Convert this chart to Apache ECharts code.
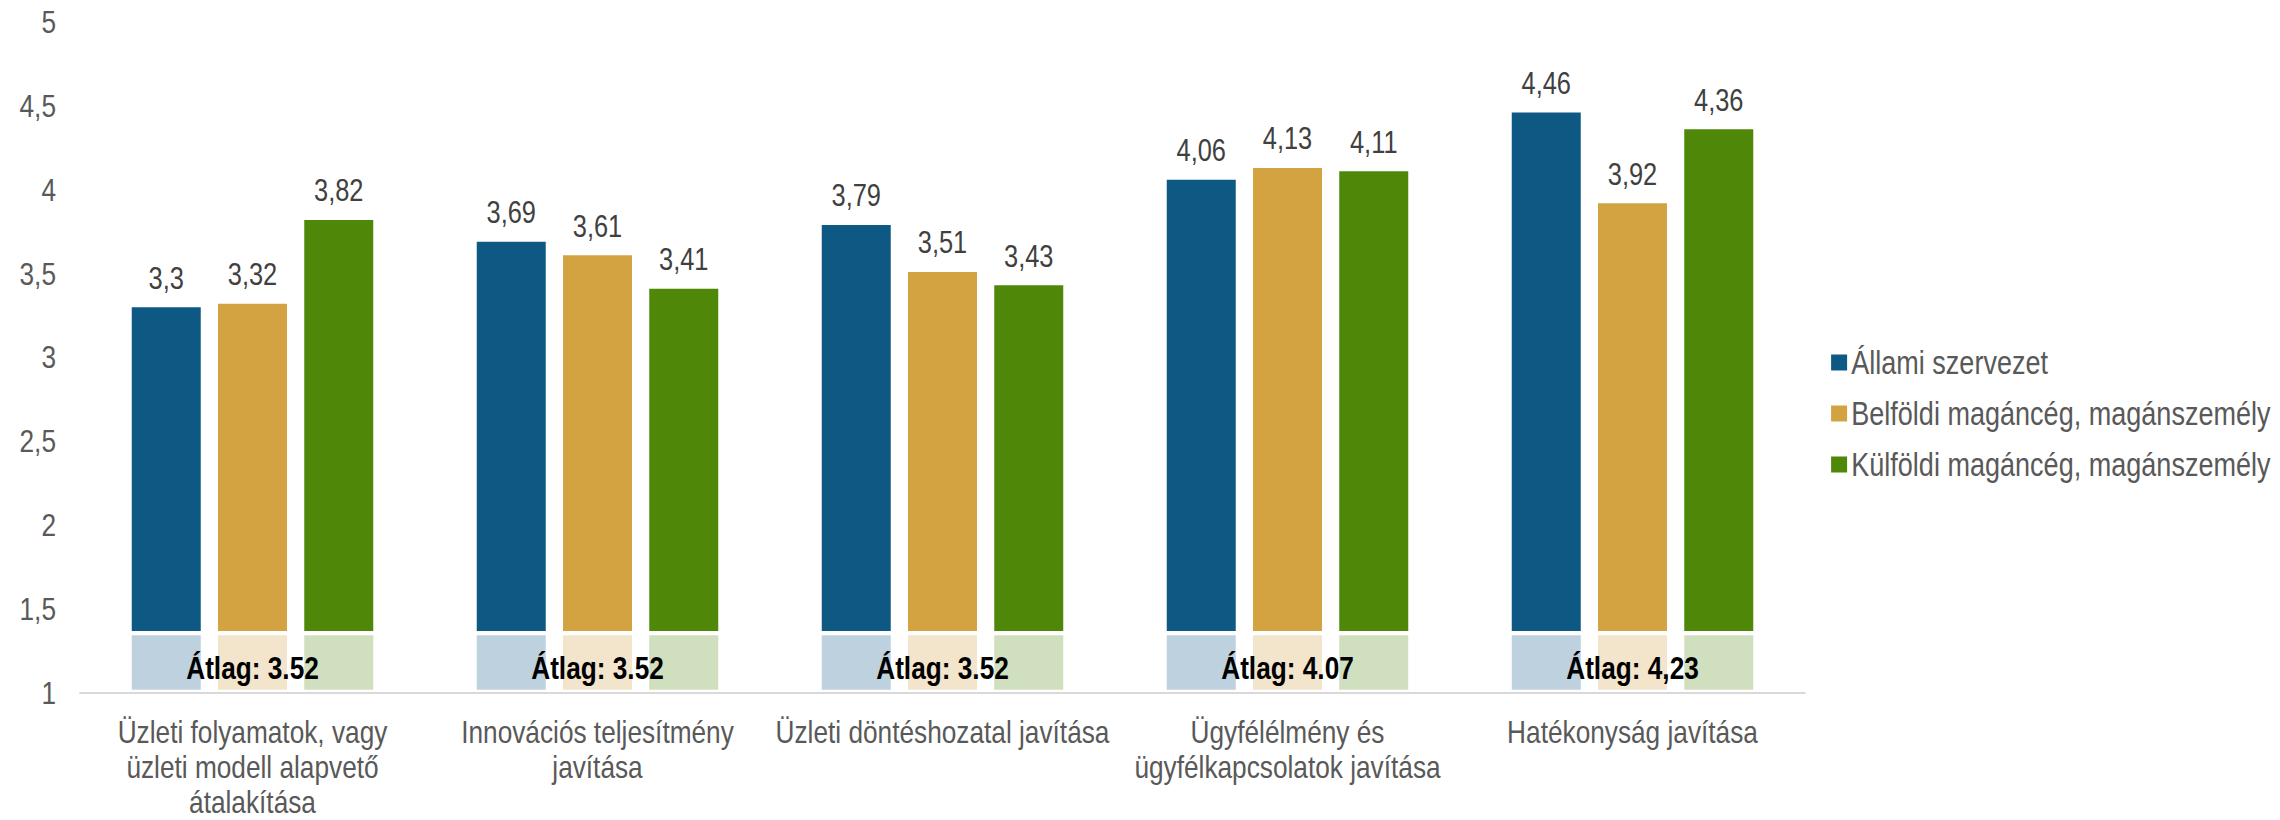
<!DOCTYPE html>
<html>
<head>
<meta charset="utf-8">
<script src="https://cdn.jsdelivr.net/npm/echarts@6/dist/echarts.min.js"></script>
<style>
  html, body { margin: 0; padding: 0; background: #fff; overflow: hidden; }
  #wrap { width: 2280px; height: 820px; overflow: hidden; }
  #chart { height: 820px; transform-origin: 0 0; }
</style>
</head>
<body>
<div id="wrap"><div id="chart"></div></div>
<script>
const categories = [
    'Üzleti folyamatok, vagy\nüzleti modell alapvető\nátalakítása',
    'Innovációs teljesítmény\njavítása',
    'Üzleti döntéshozatal javítása',
    'Ügyfélélmény és\nügyfélkapcsolatok javítása',
    'Hatékonyság javítása'
];
const seriesNames = ['Állami szervezet', 'Belföldi magáncég, magánszemély', 'Külföldi magáncég, magánszemély'];
const allami = [3.3, 3.69, 3.79, 4.06, 4.46];
const belfoldi = [3.32, 3.61, 3.51, 4.13, 3.92];
const kulfoldi = [3.82, 3.41, 3.43, 4.11, 4.36];
const avgLabels = ['Átlag: 3.52', 'Átlag: 3.52', 'Átlag: 3.52', 'Átlag: 4.07', 'Átlag: 4,23'];
const yTicks = [1, 1.5, 2, 2.5, 3, 3.5, 4, 4.5, 5];

// the light boxes under each bar sit between these two levels
const BOX_BOTTOM = 1.02;
const BOX_TOP = 1.345;
const BAR_START = 1.37;

const darkColors = ['#0e5884', '#d3a241', '#4f8708'];
const lightColors = ['#bdd1df', '#f3e5cc', '#d0dfbd'];
const FONT = '"Liberation Sans", Arial, sans-serif';

// no narrow font installed: draw wider and squeeze horizontally
const SX = 0.82;
const px = v => v / SX;
const dom = document.getElementById('chart');
dom.style.width = px(2280) + 'px';
dom.style.transform = 'scaleX(' + SX + ')';

const chart = echarts.init(dom, null, { renderer: 'svg' });

const values = [allami, belfoldi, kulfoldi];
const series = [];
values.forEach((vals, k) => {
    const stack = 's' + k;
    const common = { type: 'bar', stack: stack, barWidth: px(69), barGap: '25%', emphasis: { disabled: true } };
    series.push(Object.assign({}, common, {
        name: 'base' + k,
        itemStyle: { color: 'transparent' },
        data: vals.map(() => BOX_BOTTOM)
    }));
    series.push(Object.assign({}, common, {
        name: 'box' + k,
        z: k === 1 ? 4 : 2,
        itemStyle: { color: lightColors[k] },
        label: {
            show: k === 1,
            position: 'inside',
            offset: [0, 6],
            formatter: p => avgLabels[p.dataIndex],
            color: '#000',
            fontWeight: 'bold',
            fontSize: 32,
            fontFamily: FONT
        },
        data: vals.map(() => BOX_TOP - BOX_BOTTOM)
    }));
    series.push(Object.assign({}, common, {
        name: 'gap' + k,
        itemStyle: { color: 'transparent' },
        data: vals.map(() => BAR_START - BOX_TOP)
    }));
    series.push(Object.assign({}, common, {
        name: seriesNames[k],
        itemStyle: { color: darkColors[k] },
        label: {
            show: true,
            position: 'top',
            distance: 14,
            formatter: p => String(vals[p.dataIndex]).replace('.', ','),
            color: '#404040',
            fontSize: 31,
            fontFamily: FONT
        },
        data: vals.map(v => +(v - BAR_START).toFixed(3))
    }));
});

const option = {
    animation: false,
    backgroundColor: '#fff',
    textStyle: { fontFamily: FONT },
    legend: {
        data: seriesNames,
        orient: 'vertical',
        left: px(1827),
        top: 341,
        itemWidth: px(16),
        itemHeight: 16,
        itemGap: 18,
        icon: 'rect',
        textStyle: { color: '#595959', fontSize: 33, fontFamily: FONT }
    },
    grid: {
        left: px(80),
        top: 22,
        width: px(1725),
        bottom: 125,
        containLabel: false
    },
    xAxis: {
        type: 'category',
        data: categories,
        axisLine: { lineStyle: { color: '#d9d9d9', width: 2 } },
        axisTick: { show: false },
        axisLabel: {
            color: '#595959',
            fontSize: 32,
            lineHeight: 35,
            margin: 22,
            interval: 0,
            fontFamily: FONT
        }
    },
    yAxis: {
        type: 'value',
        min: yTicks[0],
        max: yTicks[yTicks.length - 1],
        interval: 0.5,
        axisLine: { show: false },
        axisTick: { show: false },
        splitLine: { show: false },
        axisLabel: {
            color: '#595959',
            fontSize: 32,
            margin: px(24),
            fontFamily: FONT,
            formatter: v => String(v).replace('.', ',')
        }
    },
    series: series
};

chart.setOption(option);
</script>
</body>
</html>
